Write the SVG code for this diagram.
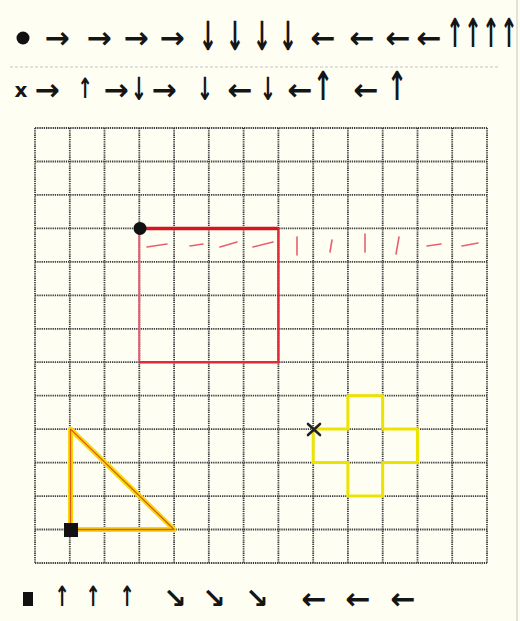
<svg xmlns="http://www.w3.org/2000/svg" width="520" height="621" viewBox="0 0 520 621">
<style>
.a{font-family:"DejaVu Sans",sans-serif;font-weight:bold;fill:#151515;text-anchor:middle;dominant-baseline:central}
.h{font-size:30px}
.v{font-size:40px}
.m{font-size:32px}
.s{font-size:28px}
.g{fill:none;stroke:#3c3c3c;stroke-width:1.8;stroke-dasharray:1.3 0.9}
.dash{stroke:#e8606e;stroke-width:1.6;stroke-linecap:round}
</style>
<rect width="520" height="621" fill="#fffef3"/>
<line x1="517" y1="0" x2="517" y2="621" stroke="#d8d8cc" stroke-width="1.5"/>
<line x1="10" y1="67" x2="500" y2="67" stroke="#c4c4c4" stroke-width="1" stroke-dasharray="3 2"/>

<g id="program-dot">
<circle cx="23" cy="38" r="6.5" fill="#111"/>
<text class="a h" x="57" y="37">→</text>
<text class="a h" x="99" y="37">→</text>
<text class="a h" x="136" y="37">→</text>
<text class="a h" x="172" y="37">→</text>
<text class="a v" transform="translate(208 36) scale(0.55 1)">↓</text>
<text class="a v" transform="translate(235 36) scale(0.55 1)">↓</text>
<text class="a v" transform="translate(262 36) scale(0.55 1)">↓</text>
<text class="a v" transform="translate(288 36) scale(0.55 1)">↓</text>
<text class="a h" x="323" y="37">←</text>
<text class="a h" x="362" y="37">←</text>
<text class="a h" x="398" y="37">←</text>
<text class="a h" x="429" y="37">←</text>
<text class="a v" transform="translate(455 33) scale(0.52 1)">↑</text>
<text class="a v" transform="translate(473 33) scale(0.52 1)">↑</text>
<text class="a v" transform="translate(491 33) scale(0.52 1)">↑</text>
<text class="a v" transform="translate(509 33) scale(0.52 1)">↑</text>
</g>

<g id="program-x">
<text class="a" x="21" y="90" font-size="20">x</text>
<text class="a h" x="47" y="89">→</text>
<text class="a s" transform="translate(85 89) scale(0.65 1)">↑</text>
<text class="a h" x="116" y="89">→</text>
<text class="a m" transform="translate(139 89) scale(0.6 1)">↓</text>
<text class="a h" x="164" y="89">→</text>
<text class="a m" transform="translate(205 89) scale(0.6 1)">↓</text>
<text class="a h" x="240" y="89">←</text>
<text class="a m" transform="translate(268 89) scale(0.6 1)">↓</text>
<text class="a h" x="300" y="89">←</text>
<text class="a v" transform="translate(323 86) scale(0.6 1)">↑</text>
<text class="a h" x="366" y="89">←</text>
<text class="a v" transform="translate(397 86) scale(0.6 1)">↑</text>
</g>

<g id="grid">
<path class="g" d="M35 128V563M69.8 128V563M104.5 128V563M139.3 128V563M174.1 128V563M208.8 128V563M243.6 128V563M278.4 128V563M313.2 128V563M347.9 128V563M382.7 128V563M417.5 128V563M452.2 128V563M487 128V563"/>
<path class="g" d="M35 128H487M35 161.5H487M35 194.9H487M35 228.4H487M35 261.8H487M35 295.3H487M35 328.8H487M35 362.2H487M35 395.7H487M35 429.1H487M35 462.6H487M35 496.1H487M35 529.5H487M35 563H487"/>
</g>

<g id="red-square">
<path d="M139.3 228.4V362.2" stroke="#ea5a72" stroke-width="2" fill="none"/>
<path d="M139.3 362.2H278.4V228.4" stroke="#e02a38" stroke-width="2.4" fill="none"/>
<path d="M139.3 228.4H278.4" stroke="#d8141e" stroke-width="3.5" fill="none"/>
<circle cx="140" cy="228.4" r="6.5" fill="#111"/>
</g>

<g id="red-dashes">
<line class="dash" x1="147" y1="247" x2="167" y2="244"/>
<line class="dash" x1="190" y1="246" x2="203" y2="244"/>
<line class="dash" x1="220" y1="247" x2="237" y2="242"/>
<line class="dash" x1="253" y1="247" x2="273" y2="242"/>
<line class="dash" x1="297" y1="237" x2="297" y2="255"/>
<line class="dash" x1="332" y1="240" x2="330" y2="252"/>
<line class="dash" x1="365" y1="234" x2="365" y2="252"/>
<line class="dash" x1="399" y1="237" x2="396" y2="254"/>
<line class="dash" x1="427" y1="246" x2="441" y2="244"/>
<line class="dash" x1="462" y1="246" x2="478" y2="243"/>
</g>

<g id="yellow-cross">
<path d="M313.2 429.1H347.9V395.7H382.7V429.1H417.5V462.6H382.7V496.1H347.9V462.6H313.2Z" fill="none" stroke="#ece300" stroke-width="3" stroke-linejoin="round"/>
<path d="M308 424L320 435M320 424L308 435" stroke="#222" stroke-width="2.6" stroke-linecap="round"/>
</g>

<g id="triangle">
<path d="M70.5 429.1V529.5H174.1Z" fill="none" stroke="#f5d90a" stroke-width="5" stroke-linejoin="round"/>
<path d="M70.5 429.1V529.5H174.1Z" fill="none" stroke="#dd5a12" stroke-width="1.3" stroke-linejoin="round"/>
<rect x="64" y="523" width="14" height="14" fill="#111"/>
</g>

<g id="program-square">
<rect x="23" y="592" width="10" height="14" fill="#111"/>
<text class="a s" transform="translate(62 597) scale(0.65 1)">↑</text>
<text class="a s" transform="translate(93 597) scale(0.65 1)">↑</text>
<text class="a s" transform="translate(127 597) scale(0.65 1)">↑</text>
<text class="a s" x="175" y="598">↘</text>
<text class="a s" x="214" y="598">↘</text>
<text class="a s" x="257" y="598">↘</text>
<text class="a h" x="314" y="598">←</text>
<text class="a h" x="358" y="598">←</text>
<text class="a h" x="403" y="598">←</text>
</g>
</svg>
